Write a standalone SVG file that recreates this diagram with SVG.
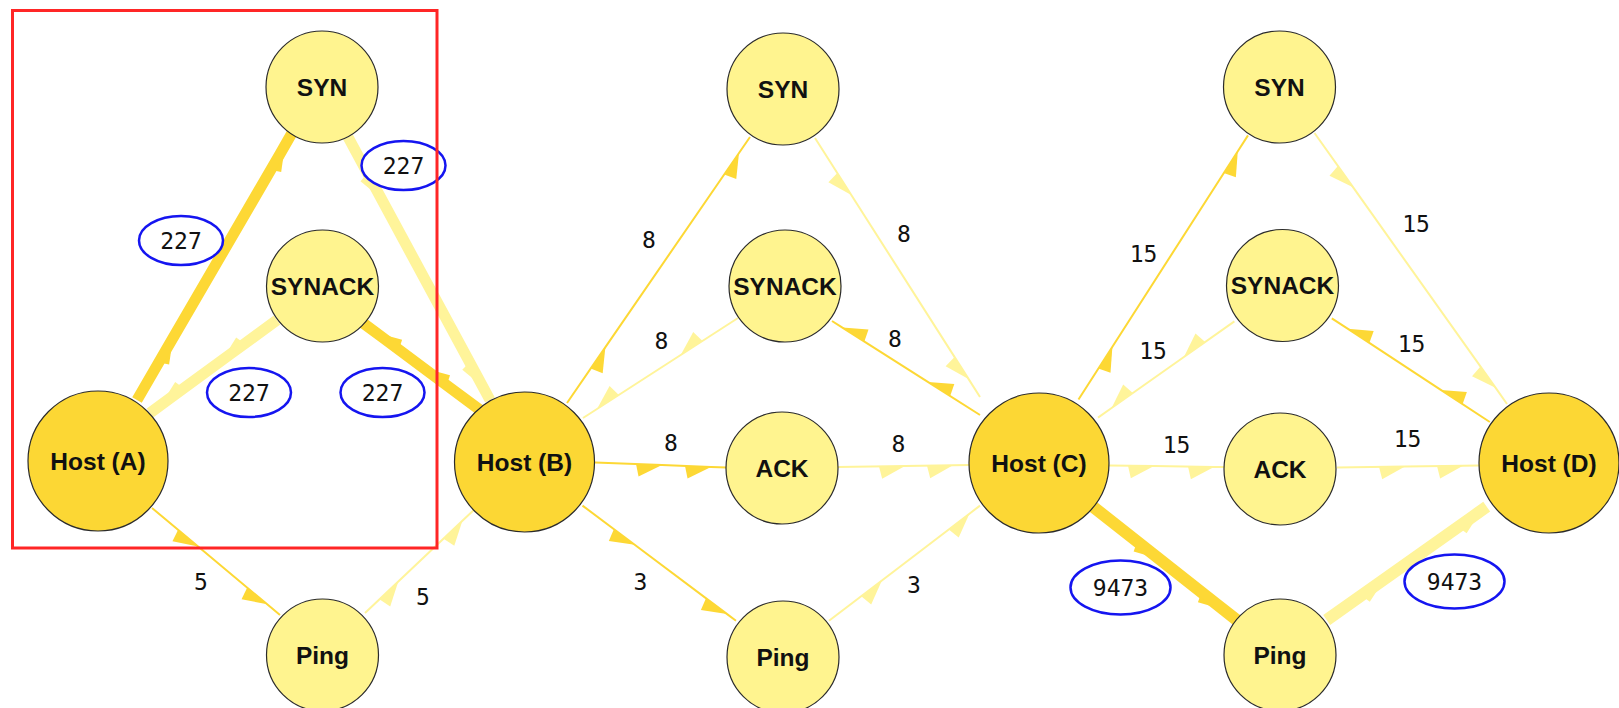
<svg xmlns="http://www.w3.org/2000/svg" width="1619" height="708" viewBox="0 0 1619 708">
  <style>
    .node { stroke: #2b2b2b; stroke-width: 1.2; }
    .host { fill: #FCD734; }
    .pkt { fill: #FFF48F; }
    .nlabel { font-family: "Liberation Sans", Arial, sans-serif; font-weight: bold; font-size: 24.5px; fill: #111; text-anchor: middle; }
    .elabel { font-family: "DejaVu Sans Mono", "Liberation Mono", monospace; font-size: 23px; fill: #111; text-anchor: middle; }
    .edge { fill: none; stroke-linecap: butt; }
    .thin-dark { stroke: #FDD835; stroke-width: 2; marker-mid: url(#barbThinDark); }
    .thin-light { stroke: #FFF49A; stroke-width: 2; marker-mid: url(#barbThinLight); }
    .thick-dark { stroke: #FDD835; stroke-width: 11; marker-mid: url(#barbThickDark); }
    .thick-light { stroke: #FFF49A; stroke-width: 11; marker-mid: url(#barbThickLight); }
    .wide { stroke-width: 12; }
    .badge { fill: #fff; stroke: #1515f0; stroke-width: 2.5; }
  </style>
  <defs>
    <!-- half arrowheads sitting on the right-hand side of the travel direction -->
    <marker id="barbThinDark" markerUnits="userSpaceOnUse" viewBox="-30 -15 40 30" markerWidth="40" markerHeight="30" refX="0" refY="0" orient="auto" overflow="visible">
      <path d="M0,0 L-26,0 L-23,12.5 Z" fill="#FDD835"/>
    </marker>
    <marker id="barbThinLight" markerUnits="userSpaceOnUse" viewBox="-30 -15 40 30" markerWidth="40" markerHeight="30" refX="0" refY="0" orient="auto" overflow="visible">
      <path d="M0,0 L-26,0 L-23,12.5 Z" fill="#FFF49A"/>
    </marker>
    <marker id="barbThickDark" markerUnits="userSpaceOnUse" viewBox="-30 -15 40 30" markerWidth="40" markerHeight="30" refX="0" refY="0" orient="auto" overflow="visible">
      <path d="M0,4 L-17,4 L-15,10 Z" fill="#FDD835"/>
    </marker>
    <marker id="barbThickLight" markerUnits="userSpaceOnUse" viewBox="-30 -15 40 30" markerWidth="40" markerHeight="30" refX="0" refY="0" orient="auto" overflow="visible">
      <path d="M0,4 L-17,4 L-15,10 Z" fill="#FFF49A"/>
    </marker>
  </defs>

  <rect width="1619" height="708" fill="#fff"/>

  <g id="connectors">
    <!-- section A -->
    <path id="e-a-syn" class="edge thick-dark" d="M137,400 L168,346.6 L280,154 L292,133"/>
    <path id="e-syn-b" class="edge thick-light" d="M348,137 L376.4,189.6 L478.2,378.2 L490,400"/>
    <path id="e-synack-a" class="edge thick-light" d="M277,320 L230,354.4 L169,399 L150,413"/>
    <path id="e-b-synack" class="edge thick-dark" d="M480,410 L432,374.3 L384.1,338.7 L363,323"/>
    <path id="e-a-ping" class="edge thin-dark" d="M152,508 L198.1,546.5 L267.2,604.3 L280,615"/>
    <path id="e-ping-b" class="edge thin-light" d="M365,613 L398.3,581.5 L462.4,520.8 L477,507"/>
    <!-- section B -->
    <path id="e-b-syn2" class="edge thin-dark" d="M567,403 L605.4,347.1 L739,153 L750,137"/>
    <path id="e-syn2-c" class="edge thin-light" d="M815,138 L851.3,195 L968.5,378.9 L980,397"/>
    <path id="e-synack2-b" class="edge thin-light" d="M738,318 L680.7,355 L597,409 L583,418"/>
    <path id="e-c-synack2" class="edge thin-dark" d="M980,415 L928.2,382.1 L842.4,327.6 L832,321"/>
    <path id="e-b-ack2" class="edge thin-dark" d="M595,462.5 L662,465 L711,466.9 L727,467.5"/>
    <path id="e-ack2-c" class="edge thin-light" d="M838,467 L905,466 L953,465.3 L970,465"/>
    <path id="e-b-ping2" class="edge thin-dark" d="M582.5,505.6 L634.7,544.8 L726.8,613.9 L736,620.8"/>
    <path id="e-ping2-c" class="edge thin-light" d="M829,620.8 L881.9,580.5 L969.4,513.7 L980,505.6"/>
    <!-- section C -->
    <path id="e-c-syn3" class="edge thin-dark" d="M1078.5,399.5 L1112.4,346.7 L1237.8,151.2 L1248,135.4"/>
    <path id="e-syn3-d" class="edge thin-light" d="M1314.5,133 L1353,187.2 L1495.5,387.7 L1507,404"/>
    <path id="e-synack3-c" class="edge thin-light" d="M1234.4,321.4 L1183.9,357 L1111.6,408 L1098,417.6"/>
    <path id="e-d-synack3" class="edge thin-dark" d="M1489.8,422 L1440.8,389.9 L1347.6,328.7 L1331.8,318.3"/>
    <path id="e-c-ack3" class="edge thin-light" d="M1108.8,465.5 L1154,466.1 L1214,466.9 L1224.8,467"/>
    <path id="e-ack3-d" class="edge thin-light" d="M1337,467.5 L1405,466.5 L1463,465.7 L1479,465.5"/>
    <path id="e-c-ping3" class="edge thick-dark wide" d="M1093,506.7 L1151.6,552.9 L1215.9,603.6 L1236.7,620"/>
    <path id="e-ping3-d" class="edge thick-light wide" d="M1326.7,620 L1376.3,584.9 L1473.1,516.3 L1486.7,506.7"/>
  </g>

  <g id="node-host-a"><circle class="node host" cx="98" cy="461" r="70"/><text class="nlabel" x="98" y="469.5">Host (A)</text></g>
  <g id="node-host-b"><circle class="node host" cx="524.5" cy="462" r="70"/><text class="nlabel" x="524.5" y="470.5">Host (B)</text></g>
  <g id="node-host-c"><circle class="node host" cx="1039" cy="463" r="70"/><text class="nlabel" x="1039" y="471.5">Host (C)</text></g>
  <g id="node-host-d"><circle class="node host" cx="1549" cy="463" r="70"/><text class="nlabel" x="1549" y="471.5">Host (D)</text></g>

  <g id="node-syn-1"><circle class="node pkt" cx="322" cy="87" r="56"/><text class="nlabel" x="322" y="95.5">SYN</text></g>
  <g id="node-synack-1"><circle class="node pkt" cx="322.5" cy="286" r="56"/><text class="nlabel" x="322.5" y="294.5">SYNACK</text></g>
  <g id="node-ping-1"><circle class="node pkt" cx="322.5" cy="655" r="56"/><text class="nlabel" x="322.5" y="663.5">Ping</text></g>

  <g id="node-syn-2"><circle class="node pkt" cx="783" cy="89" r="56"/><text class="nlabel" x="783" y="97.5">SYN</text></g>
  <g id="node-synack-2"><circle class="node pkt" cx="785" cy="286" r="56"/><text class="nlabel" x="785" y="294.5">SYNACK</text></g>
  <g id="node-ack-2"><circle class="node pkt" cx="782" cy="468" r="56"/><text class="nlabel" x="782" y="476.5">ACK</text></g>
  <g id="node-ping-2"><circle class="node pkt" cx="783" cy="657" r="56"/><text class="nlabel" x="783" y="665.5">Ping</text></g>

  <g id="node-syn-3"><circle class="node pkt" cx="1279.5" cy="87" r="56"/><text class="nlabel" x="1279.5" y="95.5">SYN</text></g>
  <g id="node-synack-3"><circle class="node pkt" cx="1282.5" cy="285.5" r="56"/><text class="nlabel" x="1282.5" y="294">SYNACK</text></g>
  <g id="node-ack-3"><circle class="node pkt" cx="1280" cy="469" r="56"/><text class="nlabel" x="1280" y="477.5">ACK</text></g>
  <g id="node-ping-3"><circle class="node pkt" cx="1280" cy="655" r="56"/><text class="nlabel" x="1280" y="663.5">Ping</text></g>

  <g id="edge-labels">
    <ellipse class="badge" cx="181" cy="240.5" rx="42" ry="24.5"/><text class="elabel" x="181" y="248.5">227</text>
    <ellipse class="badge" cx="403.5" cy="165.5" rx="42" ry="24.5"/><text class="elabel" x="403.5" y="173.5">227</text>
    <ellipse class="badge" cx="249" cy="392.5" rx="42" ry="24.5"/><text class="elabel" x="249" y="400.5">227</text>
    <ellipse class="badge" cx="382.5" cy="392.5" rx="42" ry="24.5"/><text class="elabel" x="382.5" y="400.5">227</text>
    <text class="elabel" x="201" y="589.5">5</text>
    <text class="elabel" x="423" y="604.5">5</text>

    <text class="elabel" x="649" y="248">8</text>
    <text class="elabel" x="904" y="241.5">8</text>
    <text class="elabel" x="661.5" y="349">8</text>
    <text class="elabel" x="895" y="347">8</text>
    <text class="elabel" x="671" y="451">8</text>
    <text class="elabel" x="898.5" y="452">8</text>
    <text class="elabel" x="640.5" y="590">3</text>
    <text class="elabel" x="914" y="592.5">3</text>

    <text class="elabel" x="1143.5" y="262">15</text>
    <text class="elabel" x="1416" y="232">15</text>
    <text class="elabel" x="1153" y="358.5">15</text>
    <text class="elabel" x="1411.5" y="352">15</text>
    <text class="elabel" x="1176.5" y="452.5">15</text>
    <text class="elabel" x="1407.5" y="446.5">15</text>
    <ellipse class="badge" cx="1120.5" cy="587.5" rx="50" ry="27"/><text class="elabel" x="1120.5" y="595.5">9473</text>
    <ellipse class="badge" cx="1454.5" cy="581.5" rx="50" ry="27"/><text class="elabel" x="1454.5" y="589.5">9473</text>
  </g>

  <rect id="highlight" x="12.5" y="10.5" width="424.5" height="537.5" fill="none" stroke="#ff2626" stroke-width="3"/>
</svg>
